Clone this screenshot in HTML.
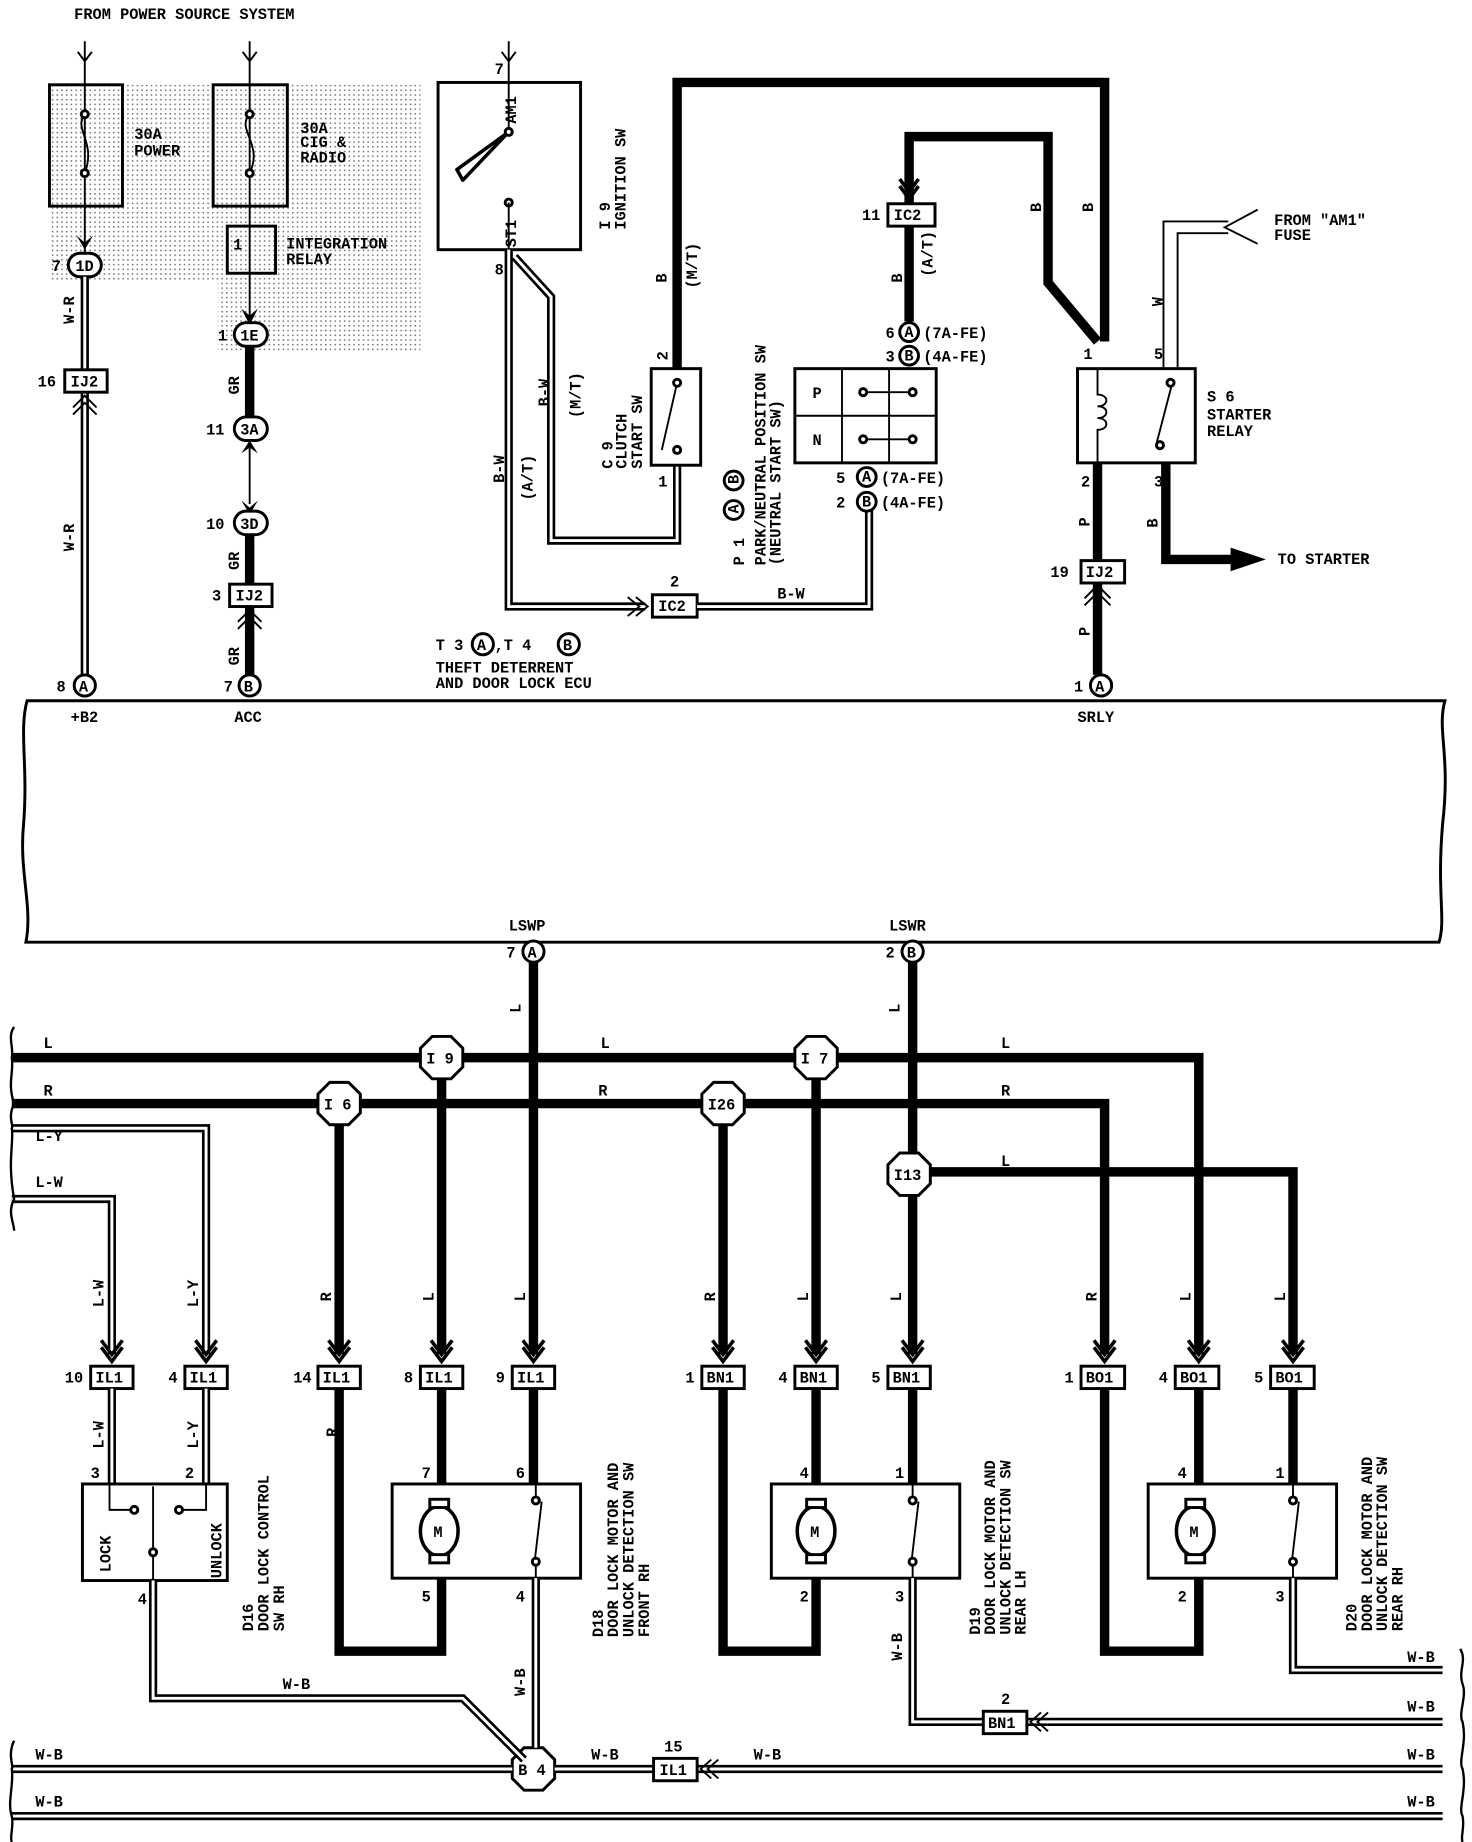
<!DOCTYPE html>
<html><head><meta charset="utf-8"><style>
html,body{margin:0;padding:0;background:#fff;}
svg{display:block;}
text{font-family:"Liberation Mono",monospace;font-weight:bold;font-size:13px;fill:#000;}
.k{fill:none;stroke:#000;stroke-width:8;stroke-linejoin:miter;}
.w6{fill:none;stroke:#000;stroke-width:7;}
.w2{fill:none;stroke:#fff;stroke-width:2.5;}
.t{fill:none;stroke:#000;stroke-width:1.6;}
.b{fill:#fff;stroke:#000;stroke-width:2.5;}
</style></head><body>
<svg width="1472" height="1842" viewBox="0 0 1250 1564" preserveAspectRatio="none" xmlns="http://www.w3.org/2000/svg">
<defs>
<pattern id="dots" width="4" height="4" patternUnits="userSpaceOnUse"><rect width="1.3" height="1.3" fill="#000"/></pattern>
</defs>
<rect x="42" y="72" width="315" height="167" fill="url(#dots)" opacity="0.55"/>
<rect x="185" y="239" width="172" height="60" fill="url(#dots)" opacity="0.55"/>
<text x="63" y="16">FROM POWER SOURCE SYSTEM</text>

<path class="t" d="M72 35V215M66 44L72 52L78 44"/>
<rect x="42" y="72" width="62" height="103" fill="none" stroke="#000" stroke-width="2.5"/>
<path class="t" d="M72 97C62 110 82 120 72 147" stroke-width="3"/>
<circle class="b" cx="72" cy="97" r="3"/><circle class="b" cx="72" cy="147" r="3"/>
<text x="114" y="118">30A</text><text x="114" y="132">POWER</text>
<path d="M65 200L72 212L79 200L72 206Z"/>
<rect class="b" x="58" y="215" width="28" height="20" rx="10"/><text x="64" y="230" font-size="12">1D</text><text x="44" y="230">7</text>
<path class="w6" d="M72 235V320M72 334V573"/><path class="w2" d="M72 235V320M72 334V573"/>
<text x="63" y="275" transform="rotate(-90 63 275)">W-R</text>
<text x="63" y="468" transform="rotate(-90 63 468)">W-R</text>
<rect class="b" x="55" y="314" width="36" height="19"/><text x="60" y="328">IJ2</text><text x="32" y="328">16</text>
<path class="t" d="M62 346L72 336L82 346M62 352L72 342L82 352" stroke-width="3"/>
<circle class="b" cx="72" cy="582" r="9"/><text x="67" y="587" font-size="11">A</text><text x="48" y="587">8</text>
<text x="60" y="613">+B2</text>

<path class="t" d="M212 35V280M206 44L212 52L218 44"/>
<rect x="181" y="72" width="63" height="103" fill="none" stroke="#000" stroke-width="2.5"/>
<path class="t" d="M212 97C200 110 224 122 212 147" stroke-width="3"/>
<circle class="b" cx="212" cy="97" r="3"/><circle class="b" cx="212" cy="147" r="3"/>
<text x="255" y="113">30A</text><text x="255" y="125">CIG &amp;</text><text x="255" y="138">RADIO</text>
<rect x="193" y="192" width="41" height="40" fill="none" stroke="#000" stroke-width="2.5"/>
<text x="198" y="212">1</text>
<text x="243" y="211">INTEGRATION</text><text x="243" y="224">RELAY</text>
<path d="M205 262L212 276L219 262L212 268Z"/>
<rect class="b" x="199" y="274" width="28" height="20" rx="10"/><text x="204" y="289" font-size="12">1E</text><text x="185" y="289">1</text>
<path class="k" d="M212 294V354M212 452V497M212 515V573"/>
<text x="203" y="335" transform="rotate(-90 203 335)">GR</text>
<rect class="b" x="199" y="354" width="28" height="20" rx="10"/><text x="204" y="369" font-size="12">3A</text><text x="175" y="369">11</text>
<path d="M205 385L212 374L219 385L212 380Z"/><path class="t" d="M212 380V428"/>
<path d="M205 425L212 437L219 425L212 431Z"/>
<rect class="b" x="199" y="434" width="28" height="20" rx="10"/><text x="204" y="449" font-size="12">3D</text><text x="175" y="449">10</text>
<text x="203" y="484" transform="rotate(-90 203 484)">GR</text>
<rect class="b" x="195" y="496" width="36" height="19"/><text x="200" y="510">IJ2</text><text x="180" y="510">3</text>
<path class="t" d="M202 528L212 518L222 528M202 534L212 524L222 534" stroke-width="3"/>
<text x="203" y="565" transform="rotate(-90 203 565)">GR</text>
<circle class="b" cx="212" cy="582" r="9"/><text x="207" y="587" font-size="11">B</text><text x="190" y="587">7</text>
<text x="199" y="613">ACC</text>

<path class="t" d="M432 35V112M426 44L432 52L438 44"/>
<text x="420" y="63">7</text>
<rect x="372" y="70" width="121" height="142" fill="none" stroke="#000" stroke-width="2.5"/>
<path d="M432 112L388 144L393 153Z" fill="none" stroke="#000" stroke-width="3" stroke-linejoin="round"/>
<circle class="b" cx="432" cy="112" r="3"/><circle class="b" cx="432" cy="172" r="3"/>
<text x="438" y="105" transform="rotate(-90 438 105)" font-size="12">AM1</text>
<text x="438" y="210" transform="rotate(-90 438 210)" font-size="12">ST1</text>
<text x="518" y="195" transform="rotate(-90 518 195)">I 9</text>
<text x="531" y="195" transform="rotate(-90 531 195)">IGNITION SW</text>
<text x="420" y="233">8</text>
<path class="t" d="M432 172V212"/>
<path class="w6" d="M432 212V515H548M437 218L468 252V459H575V395"/>
<path class="w2" d="M432 212V515H548M437 218L468 252V459H575V395"/>
<path class="t" d="M540 507L550 515L540 523M533 507L543 515L533 523" stroke-width="2.5"/>
<text x="428" y="410" transform="rotate(-90 428 410)">B-W</text>
<text x="452" y="425" transform="rotate(-90 452 425)">(A/T)</text>
<text x="466" y="345" transform="rotate(-90 466 345)">B-W</text>
<text x="493" y="355" transform="rotate(-90 493 355)">(M/T)</text>
<rect class="b" x="554" y="505" width="38" height="19"/><text x="559" y="519">IC2</text><text x="569" y="498">2</text>
<path class="w6" d="M592 515H738V422"/><path class="w2" d="M592 515H738V422"/>
<text x="660" y="508">B-W</text>

<path class="k" d="M575 313V70H938V290"/>
<rect x="553" y="313" width="42" height="82" fill="none" stroke="#000" stroke-width="2.5"/>
<path class="t" d="M575 325L562 382" stroke-width="2.5"/><circle class="b" cx="575" cy="325" r="3"/><circle class="b" cx="575" cy="382" r="3"/>
<text x="567" y="306" transform="rotate(-90 567 306)">2</text>
<text x="559" y="413">1</text>
<text x="566" y="240" transform="rotate(-90 566 240)">B</text>
<text x="592" y="245" transform="rotate(-90 592 245)">(M/T)</text>
<text x="520" y="398" transform="rotate(-90 520 398)">C 9</text>
<text x="532" y="398" transform="rotate(-90 532 398)">CLUTCH</text>
<text x="545" y="398" transform="rotate(-90 545 398)">START SW</text>

<path class="k" d="M772 172V116H890V240L932 290"/>
<path d="M764 152L772 163L780 152M764 158L772 169L780 158" fill="none" stroke="#000" stroke-width="3"/>
<rect class="b" x="754" y="173" width="40" height="19"/><text x="759" y="187">IC2</text><text x="732" y="187">11</text>
<path class="k" d="M772 192V273"/>
<text x="766" y="240" transform="rotate(-90 766 240)">B</text>
<text x="792" y="235" transform="rotate(-90 792 235)">(A/T)</text>
<circle class="b" cx="772" cy="282" r="8"/><text x="768" y="286" font-size="10">A</text><text x="752" y="287">6</text><text x="784" y="287">(7A-FE)</text>
<circle class="b" cx="772" cy="302" r="8"/><text x="768" y="306" font-size="10">B</text><text x="752" y="307">3</text><text x="784" y="307">(4A-FE)</text>
<rect x="675" y="313" width="120" height="80" fill="none" stroke="#000" stroke-width="2.5"/>
<path class="t" d="M675 353H795M715 313V393M755 313V393" stroke-width="2.5"/>
<text x="690" y="338">P</text><text x="690" y="378">N</text>
<path class="t" d="M733 333H775M733 373H775" stroke-width="2"/>
<circle class="b" cx="733" cy="333" r="3"/><circle class="b" cx="775" cy="333" r="3"/>
<circle class="b" cx="733" cy="373" r="3"/><circle class="b" cx="775" cy="373" r="3"/>
<circle class="b" cx="736" cy="405" r="8"/><text x="732" y="409" font-size="10">A</text><text x="710" y="410">5</text><text x="748" y="410">(7A-FE)</text>
<circle class="b" cx="736" cy="426" r="8"/><text x="732" y="430" font-size="10">B</text><text x="710" y="431">2</text><text x="748" y="431">(4A-FE)</text>
<text x="632" y="480" transform="rotate(-90 632 480)">P 1</text>
<circle class="b" cx="623" cy="433" r="8"/><text x="620" y="437" font-size="10" transform="rotate(-90 623 433)">A</text>
<circle class="b" cx="623" cy="408" r="8"/><text x="620" y="412" font-size="10" transform="rotate(-90 623 408)">B</text>
<text x="650" y="480" transform="rotate(-90 650 480)">PARK/NEUTRAL POSITION SW</text>
<text x="663" y="480" transform="rotate(-90 663 480)">(NEUTRAL START SW)</text>

<text x="884" y="180" transform="rotate(-90 884 180)">B</text>
<text x="928" y="180" transform="rotate(-90 928 180)">B</text>
<rect x="915" y="313" width="100" height="80" fill="none" stroke="#000" stroke-width="2.5"/>
<path class="t" d="M932 313V335C942 335 942 345 932 345C942 345 942 355 932 355C942 355 942 365 932 365V393" stroke-width="2.5"/>
<path class="t" d="M995 327L982 377" stroke-width="2.5"/><circle class="b" cx="994" cy="325" r="3"/><circle class="b" cx="985" cy="378" r="3"/>
<text x="920" y="305">1</text><text x="980" y="305">5</text><text x="918" y="413">2</text><text x="980" y="413">3</text>
<path class="t" d="M988 313V188H1043M1000 313V198H1043"/>
<path class="t" d="M1068 178L1040 193L1068 207" stroke-width="2.5"/>
<text x="1082" y="191">FROM "AM1"</text><text x="1082" y="204">FUSE</text>
<text x="987" y="260" transform="rotate(-90 987 260)">W</text>
<text x="1025" y="341">S 6</text><text x="1025" y="356">STARTER</text><text x="1025" y="370">RELAY</text>
<path class="k" d="M990 393V475H1055"/>
<path d="M1045 465L1075 475L1045 485Z"/>
<text x="1085" y="479">TO STARTER</text>
<text x="983" y="448" transform="rotate(-90 983 448)">B</text>
<path class="k" d="M932 393V475M932 496V573"/>
<text x="925" y="447" transform="rotate(-90 925 447)">P</text>
<rect class="b" x="918" y="476" width="37" height="19"/><text x="922" y="490">IJ2</text><text x="892" y="490">19</text>
<path class="t" d="M921 508L932 497L943 508M921 514L932 503L943 514" stroke-width="3"/>
<text x="925" y="540" transform="rotate(-90 925 540)">P</text>
<circle class="b" cx="935" cy="582" r="9"/><text x="930" y="587" font-size="11">A</text><text x="912" y="587">1</text>
<text x="915" y="613">SRLY</text>

<text x="370" y="552">T 3</text><circle class="b" cx="410" cy="547" r="9"/><text x="405" y="552" font-size="11">A</text>
<text x="420" y="552">,T 4</text><circle class="b" cx="483" cy="547" r="9"/><text x="478" y="552" font-size="11">B</text>
<text x="370" y="571">THEFT DETERRENT</text><text x="370" y="584">AND DOOR LOCK ECU</text>

<path d="M23 595H1227C1220 620 1232 640 1225 700C1220 760 1228 780 1222 800H22C28 770 16 740 20 700C24 650 16 620 23 595Z" fill="none" stroke="#000" stroke-width="2.5"/>

<text x="432" y="790">LSWP</text><text x="755" y="790">LSWR</text>
<circle class="b" cx="453" cy="808" r="9"/><text x="448" y="813" font-size="11">A</text><text x="430" y="813">7</text>
<circle class="b" cx="775" cy="808" r="9"/><text x="770" y="813" font-size="11">B</text><text x="752" y="813">2</text>
<path class="k" d="M453 817V1150M775 817V1150"/>
<path class="k" d="M10 898H1018V1150M10 937H938V1150M790 995H1098V1150"/>
<path class="k" d="M288 937V1150M375 898V1150M614 937V1150M693 898V1150"/>
<path class="w6" d="M10 958H175V1150M10 1018H95V1150"/><path class="w2" d="M10 958H175V1150M10 1018H95V1150"/>
<text x="37" y="890">L</text><text x="37" y="930">R</text><text x="30" y="969">L-Y</text><text x="30" y="1008">L-W</text>
<text x="510" y="890">L</text><text x="508" y="930">R</text><text x="850" y="890">L</text><text x="850" y="930">R</text><text x="850" y="990">L</text>
<text x="442" y="860" transform="rotate(-90 442 860)">L</text>
<text x="764" y="860" transform="rotate(-90 764 860)">L</text>
<g fill="#fff" stroke="#000" stroke-width="2.5">
<polygon points="367,880 383,880 393,890 393,906 383,916 367,916 357,906 357,890"/>
<polygon points="685,880 701,880 711,890 711,906 701,916 685,916 675,906 675,890"/>
<polygon points="280,919 296,919 306,929 306,945 296,955 280,955 270,945 270,929"/>
<polygon points="606,919 622,919 632,929 632,945 622,955 606,955 596,945 596,929"/>
<polygon points="764,979 780,979 790,989 790,1005 780,1015 764,1015 754,1005 754,989"/>
<polygon points="445,1484 461,1484 471,1494 471,1510 461,1520 445,1520 435,1510 435,1494"/>
</g>
<text x="362" y="903">I 9</text><text x="680" y="903">I 7</text><text x="275" y="942">I 6</text><text x="601" y="942" font-size="12">I26</text><text x="759" y="1002" font-size="12">I13</text><text x="440" y="1507">B 4</text>
<g>
<text x="88" y="1110" transform="rotate(-90 88 1110)">L-W</text>
<text x="168" y="1110" transform="rotate(-90 168 1110)">L-Y</text>
<text x="281" y="1105" transform="rotate(-90 281 1105)">R</text>
<text x="368" y="1105" transform="rotate(-90 368 1105)">L</text>
<text x="446" y="1105" transform="rotate(-90 446 1105)">L</text>
<text x="607" y="1105" transform="rotate(-90 607 1105)">R</text>
<text x="686" y="1105" transform="rotate(-90 686 1105)">L</text>
<text x="765" y="1105" transform="rotate(-90 765 1105)">L</text>
<text x="931" y="1105" transform="rotate(-90 931 1105)">R</text>
<text x="1011" y="1105" transform="rotate(-90 1011 1105)">L</text>
<text x="1091" y="1105" transform="rotate(-90 1091 1105)">L</text>
</g>
<g fill="none" stroke="#000" stroke-width="3">
<path d="M86 1138L95 1150L104 1138M86 1144L95 1156L104 1144"/>
<path d="M166 1138L175 1150L184 1138M166 1144L175 1156L184 1144"/>
<path d="M279 1138L288 1150L297 1138M279 1144L288 1156L297 1144"/>
<path d="M366 1138L375 1150L384 1138M366 1144L375 1156L384 1144"/>
<path d="M444 1138L453 1150L462 1138M444 1144L453 1156L462 1144"/>
<path d="M605 1138L614 1150L623 1138M605 1144L614 1156L623 1144"/>
<path d="M684 1138L693 1150L702 1138M684 1144L693 1156L702 1144"/>
<path d="M766 1138L775 1150L784 1138M766 1144L775 1156L784 1144"/>
<path d="M929 1138L938 1150L947 1138M929 1144L938 1156L947 1144"/>
<path d="M1009 1138L1018 1150L1027 1138M1009 1144L1018 1156L1027 1144"/>
<path d="M1089 1138L1098 1150L1107 1138M1089 1144L1098 1156L1107 1144"/>
</g>
<rect class="b" x="77" y="1160" width="36" height="19"/><rect class="b" x="157" y="1160" width="36" height="19"/>
<rect class="b" x="270" y="1160" width="36" height="19"/><rect class="b" x="357" y="1160" width="36" height="19"/>
<rect class="b" x="435" y="1160" width="36" height="19"/><rect class="b" x="596" y="1160" width="36" height="19"/>
<rect class="b" x="675" y="1160" width="36" height="19"/><rect class="b" x="754" y="1160" width="36" height="19"/>
<rect class="b" x="918" y="1160" width="37" height="19"/><rect class="b" x="998" y="1160" width="37" height="19"/>
<rect class="b" x="1079" y="1160" width="37" height="19"/>
<text x="81" y="1174">IL1</text><text x="161" y="1174">IL1</text><text x="274" y="1174">IL1</text><text x="361" y="1174">IL1</text><text x="439" y="1174">IL1</text>
<text x="600" y="1174">BN1</text><text x="679" y="1174">BN1</text><text x="758" y="1174">BN1</text>
<text x="922" y="1174">BO1</text><text x="1002" y="1174">BO1</text><text x="1083" y="1174">BO1</text>
<text x="55" y="1174">10</text><text x="143" y="1174">4</text><text x="249" y="1174">14</text><text x="343" y="1174">8</text><text x="421" y="1174">9</text>
<text x="582" y="1174">1</text><text x="661" y="1174">4</text><text x="740" y="1174">5</text>
<text x="904" y="1174">1</text><text x="984" y="1174">4</text><text x="1065" y="1174">5</text>

<path class="w6" d="M95 1179V1260M175 1179V1260"/><path class="w2" d="M95 1179V1260M175 1179V1260"/>
<text x="88" y="1230" transform="rotate(-90 88 1230)">L-W</text><text x="168" y="1230" transform="rotate(-90 168 1230)">L-Y</text>
<path class="k" d="M288 1179V1402H375V1340M375 1179V1260M453 1179V1260M614 1179V1402H693V1340M693 1179V1260M775 1179V1260M938 1179V1402H1018V1340M1018 1179V1260M1098 1179V1260"/>
<text x="286" y="1220" transform="rotate(-90 286 1220)">R</text>
<rect x="70" y="1260" width="123" height="82" fill="none" stroke="#000" stroke-width="2.5"/>
<path class="t" d="M93 1260V1282H112M154 1282H175V1260M130 1262V1342" stroke-width="2"/>
<circle class="b" cx="114" cy="1282" r="3"/><circle class="b" cx="152" cy="1282" r="3"/><circle class="b" cx="130" cy="1318" r="3"/>
<text x="94" y="1335" transform="rotate(-90 94 1335)" font-size="14">LOCK</text>
<text x="188" y="1340" transform="rotate(-90 188 1340)" font-size="14">UNLOCK</text>
<text x="77" y="1255">3</text><text x="157" y="1255">2</text><text x="117" y="1362">4</text>
<text x="215" y="1385" transform="rotate(-90 215 1385)">D16</text>
<text x="228" y="1385" transform="rotate(-90 228 1385)">DOOR LOCK CONTROL</text>
<text x="241" y="1385" transform="rotate(-90 241 1385)">SW RH</text>
<g>
<rect x="333" y="1260" width="160" height="80" fill="none" stroke="#000" stroke-width="2.5"/>
<ellipse cx="373" cy="1300" rx="16" ry="21" fill="#fff" stroke="#000" stroke-width="3"/><rect x="365" y="1273" width="16" height="7" fill="#fff" stroke="#000" stroke-width="2.5"/><rect x="365" y="1320" width="16" height="7" fill="#fff" stroke="#000" stroke-width="2.5"/>
<text x="368" y="1305" font-size="11">M</text>
<path class="t" d="M455 1260V1272M455 1328V1340M460 1275L454 1326" stroke-width="2"/><circle class="b" cx="455" cy="1274" r="3"/><circle class="b" cx="455" cy="1326" r="3"/>
<text x="358" y="1255">7</text><text x="438" y="1255">6</text><text x="358" y="1360">5</text><text x="438" y="1360">4</text>
<text x="512" y="1390" transform="rotate(-90 512 1390)">D18</text>
<text x="525" y="1390" transform="rotate(-90 525 1390)">DOOR LOCK MOTOR AND</text>
<text x="538" y="1390" transform="rotate(-90 538 1390)">UNLOCK DETECTION SW</text>
<text x="551" y="1390" transform="rotate(-90 551 1390)">FRONT RH</text>
</g>
<g>
<rect x="655" y="1260" width="160" height="80" fill="none" stroke="#000" stroke-width="2.5"/>
<ellipse cx="693" cy="1300" rx="16" ry="21" fill="#fff" stroke="#000" stroke-width="3"/><rect x="685" y="1273" width="16" height="7" fill="#fff" stroke="#000" stroke-width="2.5"/><rect x="685" y="1320" width="16" height="7" fill="#fff" stroke="#000" stroke-width="2.5"/>
<text x="688" y="1305" font-size="11">M</text>
<path class="t" d="M775 1260V1272M775 1328V1340M780 1275L774 1326" stroke-width="2"/><circle class="b" cx="775" cy="1274" r="3"/><circle class="b" cx="775" cy="1326" r="3"/>
<text x="679" y="1255">4</text><text x="760" y="1255">1</text><text x="679" y="1360">2</text><text x="760" y="1360">3</text>
<text x="832" y="1388" transform="rotate(-90 832 1388)">D19</text>
<text x="845" y="1388" transform="rotate(-90 845 1388)">DOOR LOCK MOTOR AND</text>
<text x="858" y="1388" transform="rotate(-90 858 1388)">UNLOCK DETECTION SW</text>
<text x="871" y="1388" transform="rotate(-90 871 1388)">REAR LH</text>
</g>
<g>
<rect x="975" y="1260" width="160" height="80" fill="none" stroke="#000" stroke-width="2.5"/>
<ellipse cx="1015" cy="1300" rx="16" ry="21" fill="#fff" stroke="#000" stroke-width="3"/><rect x="1007" y="1273" width="16" height="7" fill="#fff" stroke="#000" stroke-width="2.5"/><rect x="1007" y="1320" width="16" height="7" fill="#fff" stroke="#000" stroke-width="2.5"/>
<text x="1010" y="1305" font-size="11">M</text>
<path class="t" d="M1098 1260V1272M1098 1328V1340M1103 1275L1097 1326" stroke-width="2"/><circle class="b" cx="1098" cy="1274" r="3"/><circle class="b" cx="1098" cy="1326" r="3"/>
<text x="1000" y="1255">4</text><text x="1083" y="1255">1</text><text x="1000" y="1360">2</text><text x="1083" y="1360">3</text>
<text x="1152" y="1385" transform="rotate(-90 1152 1385)">D20</text>
<text x="1165" y="1385" transform="rotate(-90 1165 1385)">DOOR LOCK MOTOR AND</text>
<text x="1178" y="1385" transform="rotate(-90 1178 1385)">UNLOCK DETECTION SW</text>
<text x="1191" y="1385" transform="rotate(-90 1191 1385)">REAR RH</text>
</g>
<path class="w6" d="M130 1342V1442H393L445 1494M455 1340V1484M775 1340V1462H835M872 1462H1225M1098 1340V1418H1225M10 1502H435M471 1502H555M592 1502H1225M10 1542H1225"/>
<path class="w2" d="M130 1342V1442H393L445 1494M455 1340V1484M775 1340V1462H835M872 1462H1225M1098 1340V1418H1225M10 1502H435M471 1502H555M592 1502H1225M10 1542H1225"/>
<text x="240" y="1434">W-B</text>
<text x="446" y="1440" transform="rotate(-90 446 1440)">W-B</text>
<text x="766" y="1410" transform="rotate(-90 766 1410)">W-B</text>
<text x="1195" y="1411">W-B</text><text x="1195" y="1453">W-B</text><text x="1195" y="1494">W-B</text><text x="1195" y="1534">W-B</text>
<text x="30" y="1494">W-B</text><text x="30" y="1534">W-B</text>
<text x="502" y="1494">W-B</text><text x="640" y="1494">W-B</text>
<rect class="b" x="835" y="1453" width="37" height="19"/><text x="839" y="1467">BN1</text><text x="850" y="1447">2</text>
<path class="t" d="M884 1454L875 1462L884 1470M890 1454L881 1462L890 1470" stroke-width="2.5"/>
<rect class="b" x="555" y="1493" width="37" height="19"/><text x="560" y="1507">IL1</text><text x="564" y="1487">15</text>
<path class="t" d="M604 1494L595 1502L604 1510M610 1494L601 1502L610 1510" stroke-width="2.5"/>
<g fill="none" stroke="#000" stroke-width="2">
<path d="M12 872C6 880 12 890 10 898C12 910 6 920 12 937C6 950 12 955 10 958C12 970 6 985 12 1018C6 1030 12 1038 12 1045"/>
<path d="M12 1478C6 1490 12 1500 10 1502C12 1515 6 1530 10 1542C12 1550 8 1560 10 1564"/>
<path d="M1240 1400C1246 1410 1238 1418 1242 1430C1246 1440 1238 1455 1242 1462C1246 1480 1238 1495 1242 1502C1246 1520 1238 1535 1242 1542C1244 1552 1240 1560 1242 1564"/>
</g>
</svg>
</body></html>
